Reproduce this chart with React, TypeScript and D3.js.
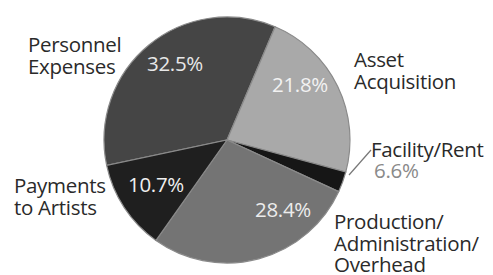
import React, { useEffect, useRef } from 'react'
import * as d3 from 'd3'

// slice shares as drawn (degrees, in percent)
const categories = ['Personnel Expenses', 'Asset Acquisition', 'Facility/Rent', 'Production/Administration/Overhead', 'Payments to Artists']
const shares = [34.7, 22.8, 2.7, 27.9, 11.9]
const pctLabels = ['32.5%', '21.8%', '6.6%', '28.4%', '10.7%']
const nameLines = [['Personnel', 'Expenses'], ['Asset', 'Acquisition'], ['Facility/Rent'], ['Production/', 'Administration/', 'Overhead'], ['Payments', 'to Artists']]
const fills = ['#454545', '#a9a9a9', '#161616', '#747474', '#1f1f1f']

const W = 493
const H = 275

export default function App() {
  const ref = useRef<SVGSVGElement>(null)

  useEffect(() => {
    const svg = d3.select(ref.current)
    svg.selectAll('*').remove()

    const cx = 227, cy = 140, r = 123
    const start = -101.9 * Math.PI / 180
    const data = categories.map((c, i) => ({ name: c, value: shares[i], i }))

    const pie = d3.pie<any>().value(d => d.value).sort(null).startAngle(start).endAngle(start + 2 * Math.PI)
    const arc = d3.arc<any>().innerRadius(0).outerRadius(r)

    const g = svg.append('g').attr('transform', `translate(${cx},${cy})`)
    g.selectAll('path').data(pie(data)).join('path')
      .attr('d', arc)
      .attr('fill', d => fills[d.data.i])
      .attr('stroke', '#8a8a8a')
      .attr('stroke-width', 1.2)

    const font = '"Open Sans", Lato, sans-serif'
    // percent labels inside slices
    const pctPos = [[175, 71], [300, 92], [374, 178], [283, 217], [156, 192]]
    const pctColor = ['#e8e8e8', '#f2f2f2', '#8a8a8a', '#ececec', '#efefef']
    svg.selectAll('text.pct').data(pctLabels).join('text')
      .attr('class', 'pct')
      .attr('x', (d, i) => pctPos[i][0])
      .attr('y', (d, i) => pctPos[i][1])
      .attr('text-anchor', (d, i) => i === 2 ? 'start' : 'middle')
      .attr('font-family', font)
      .attr('font-size', 20.5)
      .attr('letter-spacing', -0.3)
      .attr('fill', (d, i) => pctColor[i])
      .text(d => d)

    // category names
    const namePos = [[28, 52], [354, 67], [371, 157], [334, 229], [14, 193]]
    nameLines.forEach((lines, i) => {
      const t = svg.append('text')
        .attr('x', namePos[i][0])
        .attr('y', namePos[i][1])
        .attr('font-family', font)
        .attr('font-size', 20.5)
        .attr('letter-spacing', -0.3)
        .attr('fill', '#2a2a2a')
      lines.forEach((l, j) => {
        t.append('tspan').attr('x', namePos[i][0]).attr('dy', j === 0 ? 0 : 21.5).text(l)
      })
    })

    // leader for Facility/Rent
    svg.append('line')
      .attr('x1', 349).attr('y1', 175).attr('x2', 371).attr('y2', 150)
      .attr('stroke', '#777').attr('stroke-width', 1.2)
  }, [])

  return (
    <div style={{ position: 'absolute', left: 0, top: 0 }}>
      <svg ref={ref} width={W} height={H} style={{ display: 'block', background: '#fff' }} />
    </div>
  )
}
